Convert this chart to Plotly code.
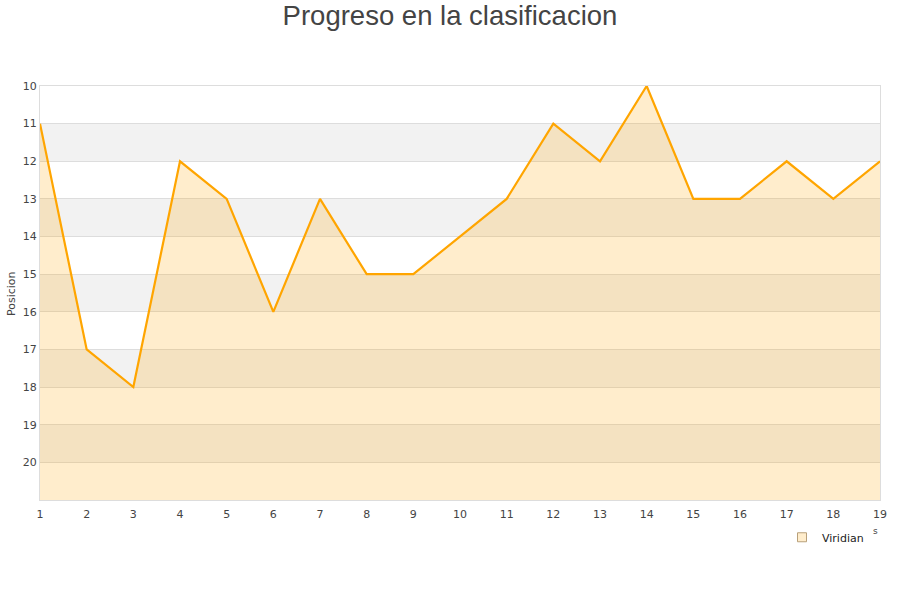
import plotly.graph_objects as go

jornadas = list(range(1, 20))
posicion = [11, 17, 18, 12, 13, 16, 13, 15, 15, 14, 13, 11, 12, 10, 13, 13, 12, 13, 12]
y_ticks = list(range(10, 21))
y_bottom = 21
y_top = 10
serie = "Viridian"

fig = go.Figure()

# baseline for the fill
fig.add_trace(go.Scatter(x=jornadas, y=[y_bottom] * len(jornadas), mode="lines",
                         line=dict(width=0, color="rgba(0,0,0,0)"), showlegend=False,
                         hoverinfo="skip"))
fig.add_trace(go.Scatter(x=jornadas, y=posicion, mode="lines", fill="tonexty",
                         fillcolor="rgba(255,165,0,0.2)",
                         line=dict(color="#FFA500", width=2.2), showlegend=False, name=serie))
# legend entry
fig.add_trace(go.Scatter(x=[None], y=[None], mode="markers", name=serie,
                         marker=dict(symbol="square", size=9, color="#FFEDCC",
                                     line=dict(color="#B8A07A", width=1))))

shapes = []
for k in range(y_top + 1, y_bottom, 2):
    shapes.append(dict(type="rect", xref="paper", yref="y", x0=0, x1=1, y0=k, y1=k + 1,
                       fillcolor="#F2F2F2", line=dict(width=0), layer="below"))

fig.update_layout(
    width=900, height=600,
    paper_bgcolor="white", plot_bgcolor="white",
    margin=dict(l=40, r=20, t=86, b=100, autoexpand=False),
    title=dict(text="Progreso en la clasificacion", x=0.5, xanchor="center", y=0.975,
               yanchor="middle",
               font=dict(family="Liberation Sans, Arial", size=27.5, color="#444444")),
    font=dict(family="DejaVu Sans", size=11, color="#444444"),
    shapes=shapes,
    showlegend=True,
    legend=dict(x=(782 - 40) / 840, xanchor="left", y=-0.09, yanchor="middle",
                bgcolor="rgba(0,0,0,0)", font=dict(size=11, color="#222222"),
                itemwidth=30),
    xaxis=dict(range=[1, 19], tickvals=jornadas, showgrid=False, zeroline=False,
               showline=True, mirror=True, linecolor="#DDDDDD", linewidth=1,
               ticks="", tickfont=dict(size=11), automargin=False,
               ticklabelstandoff=4),
    yaxis=dict(range=[y_bottom, y_top], tickvals=y_ticks, showgrid=True,
               gridcolor="#DDDDDD", gridwidth=1, zeroline=False,
               showline=True, mirror=True, linecolor="#DDDDDD", linewidth=1,
               ticks="", tickfont=dict(size=11), automargin=False),
)

fig.add_annotation(text="Posicion", xref="paper", yref="paper", x=(11 - 40) / 840,
                   y=(500 - 293) / 414, textangle=-90, showarrow=False,
                   xanchor="center", yanchor="middle",
                   font=dict(size=11, color="#444444"))
fig.add_annotation(text="s", xref="paper", yref="paper", x=(875 - 40) / 840,
                   y=(500 - 531) / 414, showarrow=False, xanchor="center", yanchor="middle",
                   font=dict(size=9, color="#444444"))

fig.write_html("out.html", config={"displayModeBar": False},
               post_script="document.body.style.margin='0';")
